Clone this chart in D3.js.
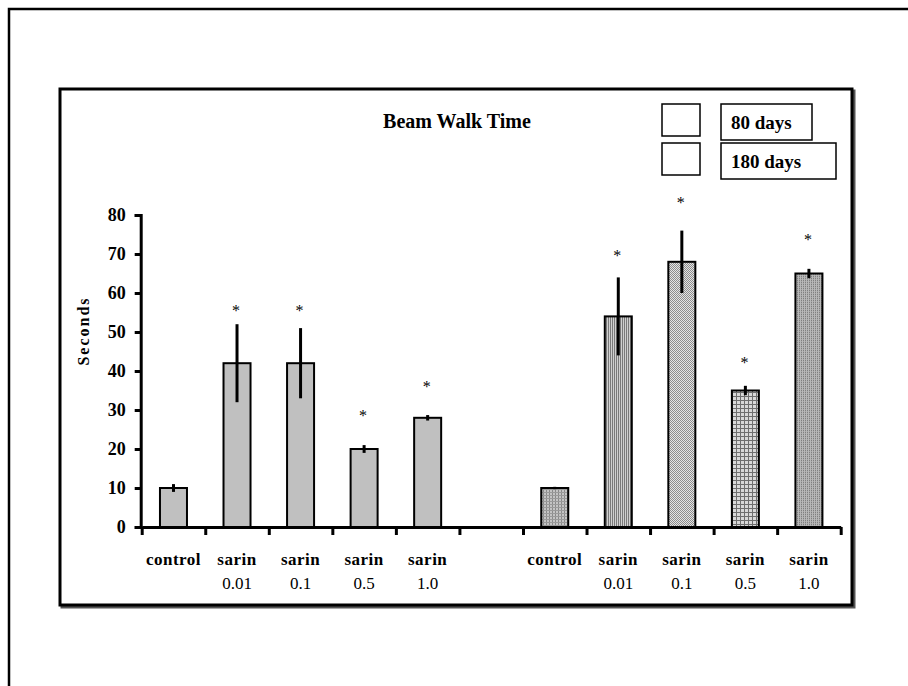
<!DOCTYPE html>
<html>
<head>
<meta charset="utf-8">
<script src="https://cdn.jsdelivr.net/npm/d3@7"></script>
<style>
  body { margin: 0; background: #fff; }
  svg { display: block; font-family: 'Liberation Serif', 'Times New Roman', serif; }
</style>
</head>
<body>
<svg id="chart"></svg>
<script>
// data
const groups = ['80 days', '180 days']
const doses = ['control', 'sarin 0.01', 'sarin 0.1', 'sarin 0.5', 'sarin 1.0']
const labelTop = ['control', 'sarin', 'sarin', 'sarin', 'sarin']
const labelBottom = ['', '0.01', '0.1', '0.5', '1.0']
const values80 = [10, 42, 42, 20, 28]
const err80 = [1, 10, 9, 1, 0.7]
const star80 = [null, 56.5, 56.5, 29.5, 37]
const values180 = [10, 54, 68, 35, 65]
const err180 = [0.3, 10, 8, 1.2, 1.2]
const star180 = [null, 70.5, 84, 43, 74.5]
const yTicks = [0, 10, 20, 30, 40, 50, 60, 70, 80]

const width = 908
const height = 686

const svg = d3.select('#chart')
    .attr('width', width)
    .attr('height', height)

// patterns for the 180 day bars
const defs = svg.append('defs')

function pattern(id, size, bg, draw) {
    const p = defs.append('pattern')
        .attr('id', id)
        .attr('patternUnits', 'userSpaceOnUse')
        .attr('width', size)
        .attr('height', size)
    p.append('rect').attr('width', size).attr('height', size).attr('fill', bg)
    draw(p)
}

// control: small grid
pattern('p0', 3, '#c4c4c4', p => {
    p.append('rect').attr('x', 0).attr('y', 0).attr('width', 1).attr('height', 3).attr('fill', '#8a8a8a')
    p.append('rect').attr('x', 0).attr('y', 0).attr('width', 3).attr('height', 1).attr('fill', '#9a9a9a')
})
// 0.01: fine vertical stripes
pattern('p1', 2, '#d0d0d0', p => {
    p.append('rect').attr('x', 0).attr('y', 0).attr('width', 1).attr('height', 2).attr('fill', '#7a7a7a')
})
// 0.1: checker dither
pattern('p2', 2, '#e4e4e4', p => {
    p.append('rect').attr('x', 0).attr('y', 0).attr('width', 1).attr('height', 1).attr('fill', '#8c8c8c')
    p.append('rect').attr('x', 1).attr('y', 1).attr('width', 1).attr('height', 1).attr('fill', '#8c8c8c')
})
// 0.5: open grid
pattern('p3', 4, '#d8d8d8', p => {
    p.append('rect').attr('x', 0).attr('y', 0).attr('width', 1).attr('height', 4).attr('fill', '#6e6e6e')
    p.append('rect').attr('x', 0).attr('y', 0).attr('width', 4).attr('height', 1).attr('fill', '#6e6e6e')
})
// 1.0: dense lines
pattern('p4', 2, '#a8a8a8', p => {
    p.append('rect').attr('x', 0).attr('y', 0).attr('width', 2).attr('height', 1).attr('fill', '#808080')
    p.append('rect').attr('x', 0).attr('y', 0).attr('width', 1).attr('height', 2).attr('fill', '#b8b8b8')
})

// outer frame (only top and left edges are in view)
svg.append('path')
    .attr('d', `M9,${height} V9 H${width}`)
    .attr('fill', 'none')
    .attr('stroke', '#000')
    .attr('stroke-width', 2.5)

// inner chart box with a little shadow
svg.append('rect')
    .attr('x', 62).attr('y', 91)
    .attr('width', 792).attr('height', 516)
    .attr('fill', 'none')
    .attr('stroke', '#555')
    .attr('stroke-width', 3)
svg.append('rect')
    .attr('x', 60).attr('y', 89)
    .attr('width', 792).attr('height', 516)
    .attr('fill', '#fff')
    .attr('stroke', '#000')
    .attr('stroke-width', 3)

// scales
const slots = [...doses.map(d => '80|' + d), 'gap', ...doses.map(d => '180|' + d)]
const x0 = 141.7, x1 = 840.7
const x = d3.scaleBand()
    .domain(slots)
    .range([x0, x1])
    .paddingInner(0.575)
    .paddingOuter(0.2875)
const xEdge = d3.scaleLinear().domain([0, slots.length]).range([x0, x1])
const y = d3.scaleLinear().domain([0, 80]).range([527, 215])

const rows = []
doses.forEach((d, i) => rows.push({ slot: '80|' + d, v: values80[i], e: err80[i], s: star80[i], fill: '#c0c0c0', i }))
doses.forEach((d, i) => rows.push({ slot: '180|' + d, v: values180[i], e: err180[i], s: star180[i], fill: `url(#p${i})`, i }))

// bars
svg.append('g').selectAll('rect')
    .data(rows)
    .enter()
    .append('rect')
    .attr('x', d => x(d.slot))
    .attr('y', d => y(d.v))
    .attr('width', x.bandwidth())
    .attr('height', d => y(0) - y(d.v))
    .attr('fill', d => d.fill)
    .attr('stroke', '#000')
    .attr('stroke-width', 2)

// error bars
svg.append('g').selectAll('line')
    .data(rows)
    .enter()
    .append('line')
    .attr('x1', d => x(d.slot) + x.bandwidth() / 2)
    .attr('x2', d => x(d.slot) + x.bandwidth() / 2)
    .attr('y1', d => y(d.v - d.e))
    .attr('y2', d => y(d.v + d.e))
    .attr('stroke', '#000')
    .attr('stroke-width', 3)

// significance stars (opacity keeps the glyphs grey instead of colour-fringed)
svg.append('g')
    .attr('opacity', 0.99)
    .selectAll('text')
    .data(rows.filter(d => d.s != null))
    .enter()
    .append('text')
    .attr('x', d => x(d.slot) + x.bandwidth() / 2 - 1)
    .attr('y', d => y(d.s) + 9)
    .attr('text-anchor', 'middle')
    .attr('font-size', 16)
    .attr('fill', '#000')
    .text('*')

// y axis
const yAxis = svg.append('g')
    .attr('transform', `translate(${x0 - 1},0)`)
    .call(d3.axisLeft(y).tickValues(yTicks).tickSize(6).tickPadding(9))
yAxis.select('.domain').attr('stroke-width', 3)
yAxis.selectAll('.tick line').attr('stroke-width', 3)
yAxis.selectAll('.tick text')
    .attr('font-family', "'Liberation Serif', serif")
    .attr('font-size', 18)
    .attr('font-weight', 'bold')
    .attr('fill', '#000')

// x axis with ticks at slot edges
const xAxis = svg.append('g')
    .attr('transform', `translate(0,${y(0)})`)
    .call(d3.axisBottom(xEdge).tickValues(d3.range(slots.length + 1)).tickFormat('').tickSize(8).tickSizeOuter(0))
xAxis.select('.domain').attr('stroke-width', 3)
xAxis.selectAll('.tick line').attr('stroke-width', 3)

// category labels
const labels = svg.append('g').selectAll('g')
    .data(rows)
    .enter()
    .append('g')
    .attr('transform', d => `translate(${x(d.slot) + x.bandwidth() / 2},0)`)
labels.append('text')
    .attr('y', 565)
    .attr('text-anchor', 'middle')
    .attr('font-size', 17)
    .attr('font-weight', 'bold')
    .attr('letter-spacing', 0.5)
    .text(d => labelTop[d.i])
labels.append('text')
    .attr('y', 589)
    .attr('text-anchor', 'middle')
    .attr('font-size', 17)
    .text(d => labelBottom[d.i])

// y axis title
svg.append('text')
    .attr('transform', 'translate(89,331) rotate(-90)')
    .attr('text-anchor', 'middle')
    .attr('font-size', 16)
    .attr('font-weight', 'bold')
    .attr('letter-spacing', 2)
    .text('Seconds')

// chart title
svg.append('text')
    .attr('x', 457)
    .attr('y', 128)
    .attr('text-anchor', 'middle')
    .attr('font-size', 20)
    .attr('font-weight', 'bold')
    .text('Beam Walk Time')

// legend
const legend = svg.append('g').selectAll('g')
    .data(groups)
    .enter()
    .append('g')
    .attr('transform', (d, i) => `translate(0,${i * 39})`)
legend.append('rect')
    .attr('x', 662).attr('y', 104)
    .attr('width', 38).attr('height', 32)
    .attr('fill', '#fff')
    .attr('stroke', '#000')
    .attr('stroke-width', 1.5)
legend.append('rect')
    .attr('x', 721).attr('y', 104)
    .attr('width', (d, i) => i ? 115 : 91)
    .attr('height', 36)
    .attr('fill', '#fff')
    .attr('stroke', '#000')
    .attr('stroke-width', 1.5)
legend.append('text')
    .attr('x', 731).attr('y', 129)
    .attr('font-size', 19)
    .attr('font-weight', 'bold')
    .text(d => d)
</script>
</body>
</html>
